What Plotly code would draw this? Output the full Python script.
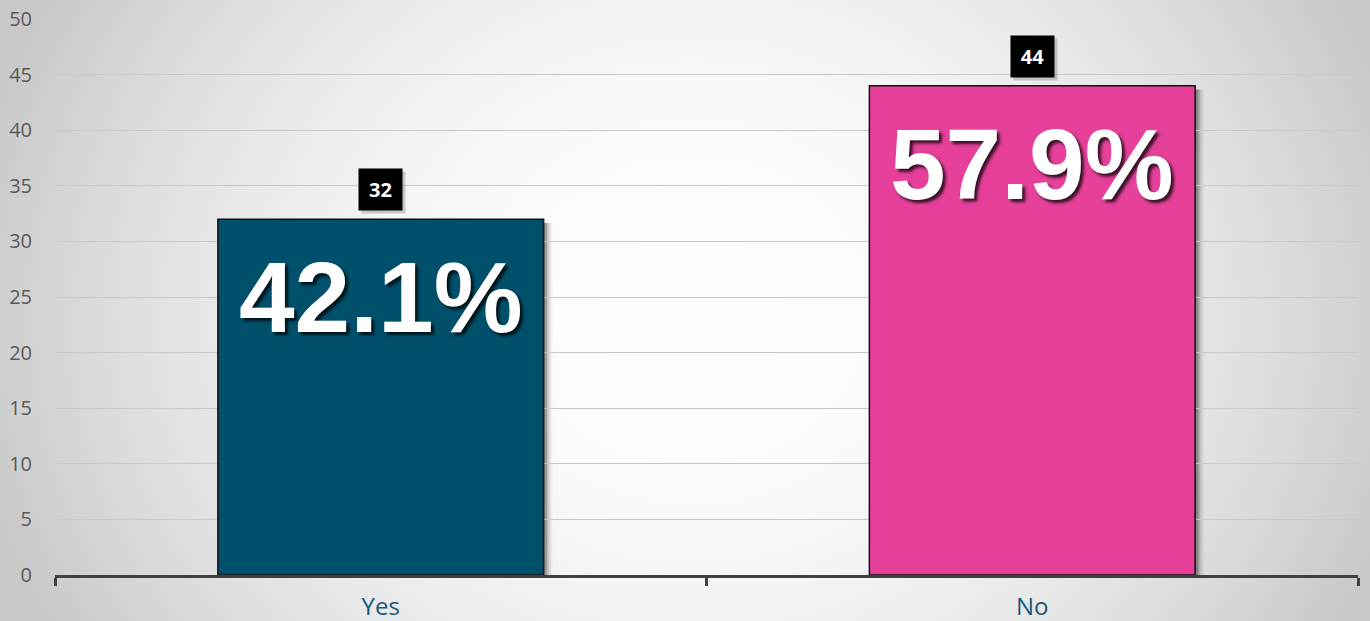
import base64
import struct
import zlib

import numpy as np
import plotly.graph_objects as go

# Survey answers
categories = ["Yes", "No"]
counts = [32, 44]
shares = ["42.1%", "57.9%"]
bar_colors = ["#00506B", "#E6409A"]

W, H = 1370, 621
M_L, M_R, M_T, M_B = 55, 12, 19, 46


def radial_png(w, h):
    """Soft white-to-grey radial backdrop encoded as a PNG data URI."""
    yy, xx = np.mgrid[0:h, 0:w].astype(float)
    dx = (xx - w * 0.505) / (w * 0.5)
    dy = (yy - h * 0.5) / (h * 0.97)
    d2 = np.minimum(dx ** 2 + dy ** 2, 1.15)
    g = np.clip(255 - 47 * d2, 0, 255).astype(np.uint8)
    raw = b"".join(b"\x00" + bytes(row) for row in g)

    def chunk(tag, data):
        c = struct.pack(">I", len(data)) + tag + data
        return c + struct.pack(">I", zlib.crc32(tag + data) & 0xFFFFFFFF)

    png = b"\x89PNG\r\n\x1a\n"
    png += chunk(b"IHDR", struct.pack(">IIBBBBB", w, h, 8, 0, 0, 0, 0))
    png += chunk(b"IDAT", zlib.compress(raw, 9))
    png += chunk(b"IEND", b"")
    return "data:image/png;base64," + base64.b64encode(png).decode()


pw, ph = W - M_L - M_R, H - M_T - M_B
bar_width = 0.5

fig = go.Figure()

# soft drop shadow to the right of each bar
shapes = []
for i, v in enumerate(counts):
    for k, op in enumerate([0.22, 0.14, 0.08, 0.04]):
        shapes.append(dict(
            type="rect", xref="x", yref="y", layer="below",
            xsizemode="pixel", xanchor=i + bar_width / 2,
            x0=0, x1=3 + 2 * k,
            y0=0, y1=v - 0.35,
            fillcolor=f"rgba(0,0,0,{op})", line=dict(width=0),
        ))

fig.add_trace(go.Bar(
    x=categories, y=counts, width=bar_width,
    marker=dict(color=bar_colors, line=dict(color="#111111", width=1.5)),
    hoverinfo="skip", showlegend=False,
))

annotations = []
for i, (c, v, s) in enumerate(zip(categories, counts, shares)):
    # count badge above the bar (shadow first, then the badge)
    annotations.append(dict(
        x=c, y=v, yanchor="bottom", yshift=5, xshift=3,
        text=" ", width=43, height=41, borderpad=0,
        bgcolor="rgba(0,0,0,0.18)", showarrow=False,
    ))
    annotations.append(dict(
        x=c, y=v, yanchor="bottom", yshift=8,
        text=f"<b>{v}</b>", width=43, height=41, borderpad=0,
        bgcolor="#000000", showarrow=False,
        font=dict(family="Open Sans", size=20, color="white"),
    ))
    # share of answers inside the bar
    annotations.append(dict(
        x=c, y=v, yanchor="middle", yshift=-78,
        text=f"<b>{s}</b>", showarrow=False,
        font=dict(family="Liberation Sans, Arial", size=100, color="white",
                  shadow="3px 3px 3px rgba(0,0,0,0.75)"),
    ))

fig.update_layout(
    width=W, height=H,
    margin=dict(l=M_L, r=M_R, t=M_T, b=M_B),
    paper_bgcolor="#e4e4e4",
    plot_bgcolor="rgba(0,0,0,0)",
    bargap=0.5,
    shapes=shapes,
    annotations=annotations,
    images=[dict(
        source=radial_png(W // 2, H // 2), xref="paper", yref="paper",
        x=-M_L / pw, y=1 + M_T / ph, sizex=W / pw, sizey=H / ph,
        xanchor="left", yanchor="top", sizing="stretch", layer="below",
    )],
    xaxis=dict(
        type="category", range=[-0.5, 1.5], automargin=False,
        showline=True, linecolor="#404040", linewidth=3,
        ticks="outside", tickson="boundaries", ticklen=8, tickwidth=3,
        tickcolor="#404040", showgrid=False, ticklabelstandoff=8,
        tickfont=dict(family="Open Sans", size=24, color="#1A5A78"),
    ),
    yaxis=dict(
        range=[0, 50], dtick=5, showline=False, zeroline=False,
        automargin=False,
        gridcolor="#c8c8c8", gridwidth=1,
        ticks="", ticklabelstandoff=22,
        tickfont=dict(family="Open Sans", size=20, color="#595959"),
    ),
)

fig.write_html("out.html")
